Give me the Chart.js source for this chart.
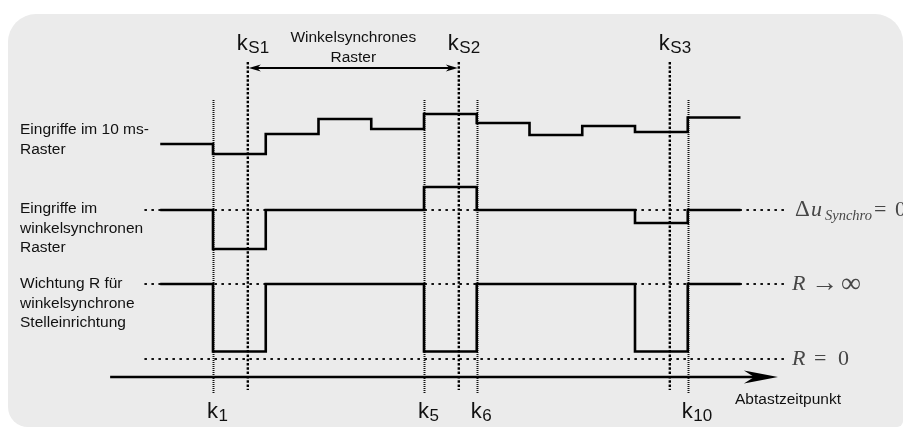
<!DOCTYPE html>
<html lang="de">
<head>
<meta charset="utf-8">
<title>Winkelsynchrone Stelleinrichtung</title>
<script src="https://cdn.jsdelivr.net/npm/chart.js@4.4.1/dist/chart.umd.min.js"></script>
<style>
  html, body { margin: 0; padding: 0; background: #fff; }
  #wrap { width: 903px; height: 428px; }
</style>
</head>
<body>
<div id="wrap"><canvas id="diagramm" width="903" height="428"></canvas></div>
<script>
// Abtastzeitpunkte k0 ... k11
const kSteps = [0, 1, 2, 3, 4, 5, 6, 7, 8, 9, 10, 11];

// Eingriffe im 10 ms-Raster (letzter Wert wird bis k11 gehalten)
const eingriffe10ms = [0, -2, 2, 5, 3, 6, 4.2, 1.8, 3.6, 2.4, 5.3, 5.3];

// Eingriffe im winkelsynchronen Raster
const eingriffeSynchro = [0, -3.9, 0, 0, 0, 2.3, 0, 0, 0, -1.3, 0, 0];

// Wichtung R (1 = R gegen unendlich, 0 = R = 0)
const wichtungR = [1, 0.1, 1, 1, 1, 0.1, 1, 1, 1, 0.1, 1, 1];

// markierte Abtastzeitpunkte und winkelsynchrone Zeitpunkte
const abtastMarken = [1, 5, 6, 10];
const abtastNamen = ['1', '5', '6', '10'];
const synchroMarken = [1.66, 5.66, 9.66];
const synchroNamen = ['S1', 'S2', 'S3'];

// Bereich der punktierten Bezugslinien und der Zeitachse (in k)
const bezugBereich = [-0.3, 11.9];
const zeitachse = [-0.95, 11.71];

const zeilenTitel = [
  ['Eingriffe im 10 ms-', 'Raster'],
  ['Eingriffe im', 'winkelsynchronen', 'Raster'],
  ['Wichtung R für', 'winkelsynchrone', 'Stelleinrichtung']
];

const punkte = vals => kSteps.map((k, i) => ({ x: k, y: vals[i] }));
const bezug = y => bezugBereich.map(x => ({ x, y }));

const signal = (data, axis) => ({
  data, yAxisID: axis, stepped: 'before',
  borderColor: '#000', borderWidth: 2.6, pointRadius: 0, fill: false, order: 1
});
const punktiert = (data, axis) => ({
  data, yAxisID: axis, borderColor: '#111', borderWidth: 2,
  borderDash: [2.5, 4.5], pointRadius: 0, fill: false, order: 2
});

const SANS = '"Liberation Sans", Arial, sans-serif';
const SERIF = '"Liberation Serif", "DejaVu Serif", serif';

function textMitIndex(ctx, x, y, haupt, index, gr, grIdx, tief) {
  ctx.font = gr + 'px ' + SANS;
  ctx.fillText(haupt, x, y);
  const w = ctx.measureText(haupt).width;
  ctx.font = grIdx + 'px ' + SANS;
  ctx.fillText(index, x + w + 0.5, y + tief);
}

function pfeilspitze(ctx, x, y, dir, len, halb) {
  ctx.beginPath();
  ctx.moveTo(x, y);
  ctx.lineTo(x - dir * len, y - halb);
  ctx.lineTo(x - dir * len * 0.7, y);
  ctx.lineTo(x - dir * len, y + halb);
  ctx.closePath();
  ctx.fill();
}

// setzt Textstücke [text, schrift, x, y] nacheinander
function formel(ctx, teile) {
  teile.forEach(([t, f, x, y]) => { ctx.font = f; ctx.fillText(t, x, y); });
}

// Hintergrundfläche, Markierungen und Beschriftung
const rahmenPlugin = {
  id: 'rahmen',
  beforeDraw(chart) {
    const ctx = chart.ctx;
    ctx.save();
    ctx.fillStyle = '#ebebeb';
    ctx.beginPath();
    ctx.roundRect(8, 14, 895, 413, [28, 28, 6, 20]);
    ctx.fill();
    ctx.restore();
  },
  beforeDatasetsDraw(chart) {
    const ctx = chart.ctx;
    const xs = chart.scales.x;
    ctx.save();
    // senkrechte Linien an den Abtastzeitpunkten
    ctx.strokeStyle = '#111';
    ctx.lineWidth = 2;
    ctx.setLineDash([1, 1]);
    abtastMarken.forEach(k => {
      const x = Math.round(xs.getPixelForValue(k)) + 0.5;
      ctx.beginPath(); ctx.moveTo(x, 100); ctx.lineTo(x, 393); ctx.stroke();
    });
    // winkelsynchrone Zeitpunkte
    ctx.strokeStyle = '#000';
    ctx.lineWidth = 2.4;
    ctx.setLineDash([2.5, 1.8]);
    synchroMarken.forEach(k => {
      const x = xs.getPixelForValue(k);
      ctx.beginPath(); ctx.moveTo(x, 62); ctx.lineTo(x, 390); ctx.stroke();
    });
    ctx.setLineDash([]);

    // Zeitachse
    ctx.strokeStyle = '#000';
    ctx.fillStyle = '#000';
    ctx.lineWidth = 2.6;
    const a0 = xs.getPixelForValue(zeitachse[0]);
    const a1 = xs.getPixelForValue(zeitachse[1]);
    ctx.beginPath(); ctx.moveTo(a0, 377); ctx.lineTo(a1 - 20, 377); ctx.stroke();
    pfeilspitze(ctx, a1, 377, 1, 34, 6.5);

    // Doppelpfeil winkelsynchrones Raster
    const s1 = xs.getPixelForValue(synchroMarken[0]);
    const s2 = xs.getPixelForValue(synchroMarken[1]);
    ctx.lineWidth = 2;
    ctx.beginPath(); ctx.moveTo(s1 + 6, 68); ctx.lineTo(s2 - 6, 68); ctx.stroke();
    pfeilspitze(ctx, s1 + 1, 68, -1, 12, 3.5);
    pfeilspitze(ctx, s2 - 1, 68, 1, 12, 3.5);
    ctx.restore();
  },
  afterDraw(chart) {
    const ctx = chart.ctx;
    const xs = chart.scales.x;
    ctx.save();
    ctx.fillStyle = '#111';
    ctx.textBaseline = 'alphabetic';

    // Zeilentitel links
    ctx.font = '15.5px ' + SANS;
    const zeilenY = [134, 213, 288];
    zeilenTitel.forEach((zeilen, i) => {
      zeilen.forEach((t, j) => ctx.fillText(t, 20, zeilenY[i] + j * 19.7));
    });

    // Beschriftung oben
    ctx.textAlign = 'center';
    const mitte = (xs.getPixelForValue(synchroMarken[0]) + xs.getPixelForValue(synchroMarken[1])) / 2;
    ctx.fillText('Winkelsynchrones', mitte, 42);
    ctx.fillText('Raster', mitte, 62);
    ctx.textAlign = 'left';
    ctx.font = '15.5px ' + SANS;
    ctx.fillText('Abtastzeitpunkt', 735, 404);

    synchroMarken.forEach((k, i) => {
      textMitIndex(ctx, xs.getPixelForValue(k) - 11, 50, 'k', synchroNamen[i], 22, 17, 3);
    });
    abtastMarken.forEach((k, i) => {
      textMitIndex(ctx, xs.getPixelForValue(k) - 6, 418, 'k', abtastNamen[i], 22, 17, 3);
    });

    // Formelzeichen rechts
    ctx.fillStyle = '#464646';
    ctx.filter = 'blur(0.35px)';
    const gr = '22px ' + SERIF, it = 'italic 22px ' + SERIF;
    formel(ctx, [
      ['\u0394', '23px ' + SERIF, 795, 216],
      ['u', it, 811, 216],
      ['Synchro', 'italic 14.5px ' + SERIF, 825, 220],
      ['=', gr, 874, 216],
      ['0', gr, 895, 216],
      ['R', it, 792, 290],
      ['\u2192', '27px ' + SERIF, 811, 291],
      ['\u221E', '28px ' + SERIF, 841, 292],
      ['R', it, 792, 365],
      ['=', gr, 814, 365],
      ['0', gr, 838, 365]
    ]);
    ctx.restore();
  }
};

new Chart(document.getElementById('diagramm'), {
  type: 'line',
  data: {
    datasets: [
      signal(punkte(eingriffe10ms), 'yTop'),
      signal(punkte(eingriffeSynchro), 'yMid'),
      signal(punkte(wichtungR), 'yR'),
      punktiert(bezug(0), 'yMid'),
      punktiert(bezug(1), 'yR'),
      punktiert(bezug(0), 'yR')
    ]
  },
  options: {
    responsive: false,
    animation: false,
    events: [],
    layout: { padding: 0 },
    plugins: { legend: { display: false }, tooltip: { enabled: false } },
    scales: {
      x: { type: 'linear', min: -3.0379, max: 14.0806, display: false },
      yTop: { type: 'linear', min: -56.8, max: 28.8, display: false },
      yMid: { type: 'linear', min: -21.8, max: 21, display: false },
      yR: { type: 'linear', min: -0.92, max: 4.7867, display: false }
    }
  },
  plugins: [rahmenPlugin]
});
</script>
</body>
</html>
